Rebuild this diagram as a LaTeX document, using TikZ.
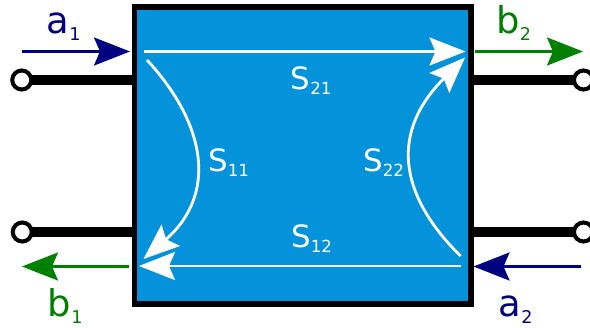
\documentclass[tikz,border=0pt]{standalone}
\usepackage{fontspec}
\setmainfont{DejaVu Sans}
\usepackage{xcolor}
\usetikzlibrary{arrows.meta}
\definecolor{boxblue}{HTML}{0492DB}
\definecolor{wavenavy}{HTML}{000080}
\definecolor{wavegreen}{HTML}{008000}
\tikzset{
    pxhead/.style={-{Stealth[length=0.72cm,width=0.56cm,inset=0.12cm]}},
    wave/.style={pxhead,line width=1.4pt},
    path/.style={pxhead,line width=1.6pt,white},
    port/.style={line width=5.7pt,black},
    term/.style={circle,draw=black,fill=white,line width=2.3pt,minimum size=0.38cm,inner sep=0pt,outer sep=0pt},
    lab/.style={font=\fontsize{21}{24}\selectfont,inner sep=0pt,anchor=base west},
    sparam/.style={font=\fontsize{17.5}{20}\selectfont,white,inner sep=0pt,anchor=base west}
}
\newcommand{\asub}[1]{\raisebox{-4.1pt}{\fontsize{10}{12}\selectfont #1}}
\newcommand{\ssub}[1]{\raisebox{-3pt}{\fontsize{9.5}{11}\selectfont #1}}

\begin{document}
\begin{tikzpicture}
        \useasboundingbox (0,0) rectangle (11.8,6.54);
        \node[draw=black,fill=boxblue,line width=2.9pt,minimum width=6.73cm,minimum height=5.94cm,inner sep=0pt,outer sep=0pt] (box) at (6.055,3.43) {};
        % ports
        \node[term] (t1) at (0.435,4.94) {};
        \node[term] (t2) at (11.67,4.94) {};
        \node[term] (t3) at (0.445,1.90) {};
        \node[term] (t4) at (11.67,1.90) {};
        \draw[port] (t1) -- (t1 -| box.west);
        \draw[port] (t2) -- (t2 -| box.east);
        \draw[port] (t3) -- (t3 -| box.west);
        \draw[port] (t4) -- (t4 -| box.east);
        % outside waves
        \coordinate (a1s) at (0.45,5.51);
        \coordinate (a1e) at (2.60,5.51);
        \coordinate (b2s) at (9.50,5.51);
        \coordinate (b2e) at (11.66,5.51);
        \coordinate (b1s) at (2.58,1.21);
        \coordinate (b1e) at (0.44,1.21);
        \coordinate (a2s) at (11.62,1.21);
        \coordinate (a2e) at (9.47,1.21);
        \draw[wave,wavenavy] (a1s) -- (a1e);
        \draw[wave,wavegreen] (b2s) -- (b2e);
        \draw[wave,wavegreen] (b1s) -- (b1e);
        \draw[wave,wavenavy] (a2s) -- (a2e);
        % inside paths
        \coordinate (s21s) at (2.88,5.51);
        \coordinate (s21e) at (9.31,5.51);
        \coordinate (s12s) at (9.21,1.22);
        \coordinate (s12e) at (2.78,1.22);
        \coordinate (s11s) at (2.94,5.34);
        \coordinate (s11e) at (2.87,1.36);
        \coordinate (s22s) at (9.21,1.42);
        \coordinate (s22e) at (9.30,5.39);
        \draw[path] (s21s) -- (s21e);
        \draw[path] (s12s) -- (s12e);
        \draw[path] (s11s) .. controls (4.14,4.04) and (4.34,2.64) .. (s11e);
        \draw[path] (s22s) .. controls (7.92,2.70) and (7.84,3.94) .. (s22e);
        % labels
        \node[lab,wavenavy] (a1) at (0.93,5.88) {a\asub{1}};
        \node[lab,wavegreen] (b2) at (9.92,5.88) {b\asub{2}};
        \node[lab,wavegreen] (b1) at (0.95,0.21) {b\asub{1}};
        \node[lab,wavenavy] (a2) at (9.97,0.21) {a\asub{2}};
        \node[sparam] (s21) at (5.81,4.76) {S\ssub{21}};
        \node[sparam] (s12) at (5.82,1.60) {S\ssub{12}};
        \node[sparam] (s11) at (4.16,3.12) {S\ssub{11}};
        \node[sparam] (s22) at (7.26,3.12) {S\ssub{22}};
    \end{tikzpicture}
\end{document}
